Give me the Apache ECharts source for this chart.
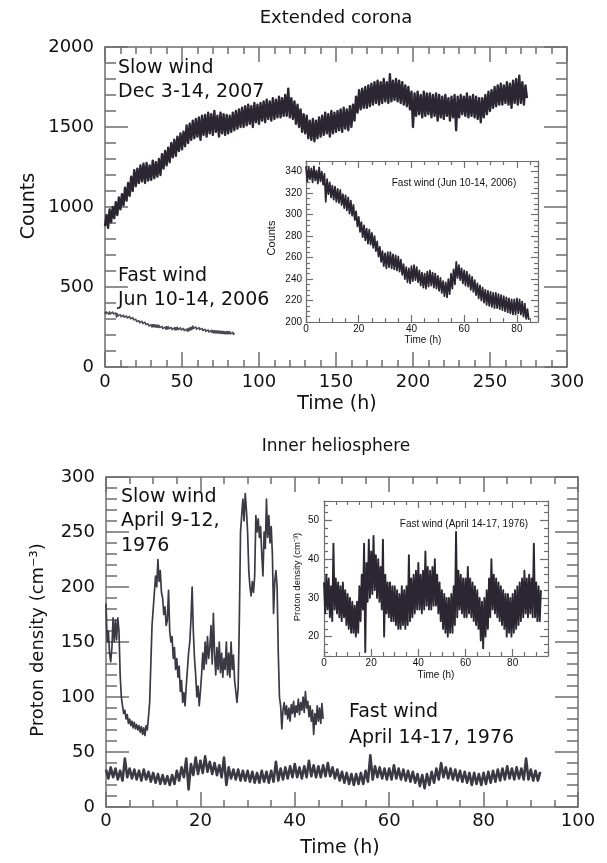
<!DOCTYPE html>
<html><head><meta charset="utf-8">
<script src="https://cdn.jsdelivr.net/npm/echarts@6/dist/echarts.min.js"></script>
<style>html,body{margin:0;padding:0;background:#fff}#c{width:607px;height:863px}</style>
</head><body><div id="c"></div>
<script>
// ---------- DATA ----------
// Extended corona, slow wind (Dec 3-14, 2007): counts, one value per hour from t=0 h
const slowTopStep = 1;
const slowTop = [
880,950,870,985,905,1000,930,1030,950,1060,
985,1080,1010,1120,1040,1150,1070,1190,1100,1230,
1130,1240,1150,1260,1160,1270,1150,1275,1165,1260,
1170,1290,1180,1280,1190,1300,1200,1330,1240,1350,
1260,1370,1280,1400,1310,1420,1320,1440,1350,1460,
1360,1470,1380,1510,1400,1520,1420,1540,1430,1550,
1440,1560,1420,1570,1450,1575,1440,1590,1460,1580,
1450,1600,1470,1570,1440,1590,1460,1580,1450,1575,
1460,1570,1470,1590,1480,1600,1490,1610,1500,1620,
1500,1630,1510,1640,1520,1630,1500,1650,1530,1640,
1520,1650,1540,1660,1530,1670,1550,1660,1540,1680,
1550,1670,1560,1690,1560,1680,1570,1700,1570,1740,
1560,1680,1550,1660,1520,1640,1500,1610,1470,1580,
1460,1570,1430,1540,1420,1550,1410,1540,1430,1560,
1440,1570,1450,1590,1460,1580,1440,1600,1460,1590,
1470,1600,1480,1610,1470,1620,1490,1610,1480,1630,
1500,1640,1540,1690,1590,1730,1610,1740,1620,1750,
1620,1760,1630,1770,1640,1780,1650,1790,1640,1780,
1650,1800,1660,1780,1650,1830,1660,1790,1670,1800,
1660,1790,1650,1780,1640,1760,1630,1750,1610,1720,
1500,1710,1570,1720,1580,1700,1560,1720,1570,1710,
1580,1710,1560,1700,1570,1710,1540,1700,1560,1690,
1550,1700,1570,1680,1540,1690,1560,1700,1480,1690,
1560,1700,1580,1690,1570,1710,1560,1690,1570,1700,
1560,1690,1550,1680,1530,1680,1560,1700,1580,1720,
1600,1730,1620,1750,1630,1760,1640,1770,1640,1760,
1650,1780,1640,1770,1620,1790,1650,1800,1640,1820,
1650,1780,1640,1760,1680
];
// Extended corona, fast wind (Jun 10-14, 2006): counts every 0.5 h from t=0 h
const fastTopStep = 0.5;
const fastTop = [
345,331,344,333,343,330,345,332,341,329,344,331,340,328,338,312,333,319,330,316,
327,314,326,312,324,311,323,309,319,306,318,304,316,301,313,299,309,295,303,289,
298,284,293,279,290,276,287,273,286,272,283,269,280,266,275,261,270,256,266,252,
264,250,265,251,265,250,263,249,262,248,261,247,258,244,254,240,251,237,250,236,
252,238,253,239,251,237,248,234,246,232,245,231,247,233,248,234,246,232,245,231,
243,229,241,227,238,224,237,223,240,226,245,231,249,235,256,241,253,239,250,236,
248,234,247,233,244,230,242,228,239,225,236,222,234,220,232,218,230,216,229,215,
228,214,227,213,227,213,226,212,225,211,224,210,223,209,222,208,221,207,221,207,
222,208,221,207,219,205,217,203,212,202
];
// Inner heliosphere, slow wind (April 9-12, 1976): proton density every 0.25 h from t=0 h
const slowBottomStep = 0.25;
const slowBottom = [
185,150,160,140,132,145,172,150,
170,152,172,160,120,100,92,85,
88,80,84,76,80,74,78,72,
77,71,75,70,74,68,73,66,
72,65,74,70,82,95,130,165,
180,195,210,200,225,205,215,195,
190,175,182,165,170,197,160,150,
155,135,145,125,135,118,128,105,
115,95,104,92,110,125,140,150,
170,200,160,135,120,100,110,92,
105,120,140,125,150,130,155,135,
145,165,130,176,140,120,145,125,
150,122,140,118,135,125,150,120,
140,118,150,125,138,115,105,95,
108,170,250,265,280,260,285,270,
250,215,200,192,205,195,210,265,
250,262,245,255,230,210,250,235,
280,245,265,240,255,230,176,205,
215,200,140,100,92,71,88,95,
84,92,80,90,78,93,85,96,
82,92,86,98,84,95,88,100,
86,105,90,96,82,92,78,88,
66,85,75,92,78,90,76,94,
80
];
// Inner heliosphere, fast wind (April 14-17, 1976): proton density every 0.5 h from t=0 h
const fastBottomStep = 0.5;
const fastBottom = [
34,26,36,27,35,25,33,24,44,27,35,26,34,25,33,24,34,25,32,23,
31,22,30,21,29,21,28,20,29,21,33,24,36,27,44,16,39,29,45,30,
42,31,46,32,41,30,40,29,38,27,45,20,36,26,34,25,34,24,33,24,
33,23,32,22,31,22,33,23,32,22,33,23,41,24,35,25,36,26,37,27,
39,27,36,26,37,27,42,28,38,27,37,27,38,28,40,28,36,26,34,24,
32,22,31,21,30,20,30,21,31,21,33,23,47,25,37,27,36,26,35,25,
35,25,38,26,35,25,34,24,33,23,32,22,30,19,29,17,30,20,32,22,
35,25,40,27,36,26,35,25,34,24,33,23,32,22,31,20,31,21,30,20,
31,21,32,22,33,23,34,24,35,25,37,26,35,25,36,26,35,25,44,25,
34,24,33,24,32
];

// ---------- CHART ----------
function toXY(arr, step){ return arr.map((v,i)=>[i*step, v]); }
const FRAME = '#6e6e6e', TXT = '#111', LINE = '#2b2732';
const FF = 'DejaVu Sans', FFS = 'Liberation Sans Narrow, Liberation Sans, Arial';

function ax(o){
  return {
    type:'value', gridIndex:o.g, position:o.pos, min:o.min, max:o.max,
    interval:o.interval, splitNumber:o.split,
    axisLine:{show:true, onZero:false, lineStyle:{color:FRAME, width:o.lw}},
    axisTick:{show:true, inside:true, length:o.tl, lineStyle:{color:FRAME, width:o.lw}},
    minorTick:{show:true, splitNumber:o.ms, length:o.ml, lineStyle:{color:FRAME, width:o.lw}},
    splitLine:{show:false}, minorSplitLine:{show:false},
    axisLabel:{show:!!o.lab, color:TXT, fontFamily:o.ff, fontSize:o.fs, margin:o.mg,
      showMinLabel:o.smin, showMaxLabel:o.smax, formatter:function(v){return String(v);}}
  };
}
const xAxes = [
  ax({g:0,pos:'bottom',min:0,max:300,interval:50,ms:5,tl:15,ml:7,lw:1.5,lab:true,ff:FF,fs:18,mg:6,smin:true,smax:true}),
  ax({g:0,pos:'top',min:0,max:300,interval:50,ms:5,tl:15,ml:7,lw:1.5}),
  ax({g:1,pos:'bottom',min:0,max:88,interval:20,ms:4,tl:7,ml:4,lw:1.2,lab:true,ff:FFS,fs:10,mg:2,smin:true,smax:false}),
  ax({g:1,pos:'top',min:0,max:88,interval:20,ms:4,tl:7,ml:4,lw:1.2}),
  ax({g:2,pos:'bottom',min:0,max:100,interval:20,ms:4,tl:15,ml:7,lw:1.5,lab:true,ff:FF,fs:18,mg:5,smin:true,smax:true}),
  ax({g:2,pos:'top',min:0,max:100,interval:20,ms:4,tl:15,ml:7,lw:1.5}),
  ax({g:3,pos:'bottom',min:0,max:95,interval:20,ms:4,tl:7,ml:4,lw:1.2,lab:true,ff:FFS,fs:10,mg:2,smin:true,smax:false}),
  ax({g:3,pos:'top',min:0,max:95,interval:20,ms:4,tl:7,ml:4,lw:1.2})
];
const yAxes = [
  ax({g:0,pos:'left',min:0,max:2000,interval:500,ms:5,tl:23,ml:11,lw:1.5,lab:true,ff:FF,fs:18,mg:11,smin:true,smax:true}),
  ax({g:0,pos:'right',min:0,max:2000,interval:500,ms:5,tl:23,ml:11,lw:1.5}),
  ax({g:1,pos:'left',min:200,max:350,interval:20,ms:4,tl:7,ml:4,lw:1.2,lab:true,ff:FFS,fs:10,mg:4,smin:true,smax:false}),
  ax({g:1,pos:'right',min:200,max:350,interval:20,ms:4,tl:7,ml:4,lw:1.2}),
  ax({g:2,pos:'left',min:0,max:300,interval:50,ms:5,tl:23,ml:11,lw:1.5,lab:true,ff:FF,fs:18,mg:11,smin:true,smax:true}),
  ax({g:2,pos:'right',min:0,max:300,interval:50,ms:5,tl:23,ml:11,lw:1.5}),
  ax({g:3,pos:'left',min:15,max:55,split:4,ms:5,tl:8,ml:4,lw:1.2,lab:true,ff:FFS,fs:10,mg:5,smin:false,smax:false}),
  ax({g:3,pos:'right',min:15,max:55,split:4,ms:5,tl:8,ml:4,lw:1.2})
];
function ser(data, xi, yi, color, w){
  return {type:'line', xAxisIndex:xi, yAxisIndex:yi, data:data, showSymbol:false, symbol:'none',
    sampling:null, animation:false, silent:true, lineStyle:{color:color, width:w, join:'round'}};
}
function txt(t, x, y, fs, opts){
  opts = opts || {};
  return {type:'text', x:x, y:y, rotation:opts.rot||0, silent:true,
    style:{text:t, x:0, y:0, fontFamily:opts.ff||FF, fontSize:fs, fill:TXT,
      align:opts.align||'center', verticalAlign:'middle'}};
}
const R = Math.PI/2;
const option = {
  backgroundColor:'#fff',
  animation:false,
  grid:[
    {left:105, top:47, width:462, height:320, outerBoundsMode:'none'},
    {left:306, top:161, width:232, height:161, outerBoundsMode:'none'},
    {left:106, top:477, width:472, height:330, outerBoundsMode:'none'},
    {left:324, top:501, width:224, height:155, outerBoundsMode:'none'}
  ],
  xAxis:xAxes, yAxis:yAxes,
  series:[
    ser(toXY(slowTop, slowTopStep), 0, 0, LINE, 2.4),
    ser(toXY(fastTop, fastTopStep), 0, 0, '#4a4754', 1.5),
    ser(toXY(fastTop, fastTopStep), 2, 2, LINE, 1.8),
    ser(toXY(slowBottom, slowBottomStep), 4, 4, '#3a3944', 1.7),
    ser(toXY(fastBottom, fastBottomStep), 4, 4, '#3a3944', 2.6),
    ser(toXY(fastBottom, fastBottomStep), 6, 6, LINE, 1.9)
  ],
  graphic:[
    txt('Extended corona', 336, 18, 18),
    txt('Counts', 29, 206, 19, {rot:R}),
    txt('Time (h)', 337, 404, 19),
    txt('Slow wind', 118, 68, 19, {align:'left'}),
    txt('Dec 3-14, 2007', 118, 92, 19, {align:'left'}),
    txt('Fast wind', 118, 276, 19, {align:'left'}),
    txt('Jun 10-14, 2006', 118, 300, 19, {align:'left'}),
    txt('Counts', 272, 238, 11, {rot:R, ff:'Liberation Sans'}),
    txt('Time (h)', 423, 340, 10, {ff:'Liberation Sans'}),
    txt('Fast wind (Jun 10-14, 2006)', 454, 183, 10, {ff:'Liberation Sans'}),
    txt('Inner heliosphere', 336, 447, 17),
    txt('Proton density (cm\u207B\u00B3)', 38, 640, 18, {rot:R}),
    txt('Time (h)', 340, 848, 19),
    txt('Slow wind', 121, 497, 19, {align:'left'}),
    txt('April 9-12,', 121, 521, 19, {align:'left'}),
    txt('1976', 121, 546, 19, {align:'left'}),
    txt('Fast wind', 349, 712, 19, {align:'left'}),
    txt('April 14-17, 1976', 349, 738, 19, {align:'left'}),
    txt('Proton density (cm\u207B\u00B3)', 297, 577, 9.5, {rot:R, ff:'Liberation Sans'}),
    txt('Time (h)', 436, 675, 10, {ff:'Liberation Sans'}),
    txt('Fast wind (April 14-17, 1976)', 464, 524, 10, {ff:'Liberation Sans'})
  ]
};
const chart = echarts.init(document.getElementById('c'), null, {renderer:'canvas'});
chart.setOption(option);
</script></body></html>
